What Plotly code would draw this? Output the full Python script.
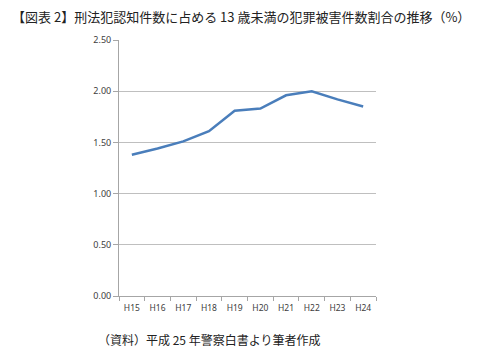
import plotly.graph_objects as go

categories = ["H15", "H16", "H17", "H18", "H19", "H20", "H21", "H22", "H23", "H24"]
values = [1.38, 1.44, 1.51, 1.61, 1.81, 1.83, 1.96, 2.00, 1.92, 1.85]
y_ticks = [0, 0.5, 1.0, 1.5, 2.0, 2.5]
y_tick_labels = ["0.00", "0.50", "1.00", "1.50", "2.00", "2.50"]
title_text = "【図表 2】刑法犯認知件数に占める 13 歳未満の犯罪被害件数割合の推移（%）"
source_text = "（資料）平成 25 年警察白書より筆者作成"

jp_font = "Noto Sans CJK JP"

fig = go.Figure()
fig.add_trace(go.Scatter(
    x=categories, y=values, mode="lines",
    line=dict(color="#4a7ebb", width=2.5),
    showlegend=False,
))

fig.update_layout(
    width=484, height=362,
    margin=dict(l=111, r=116, t=32, b=74),
    paper_bgcolor="white", plot_bgcolor="white",
    font=dict(family="Noto Sans", size=9, color="#404040"),
    annotations=[
        dict(text=title_text, xref="paper", yref="paper", x=-109/257, y=1 + 24/256,
             xanchor="left", yanchor="middle", showarrow=False,
             font=dict(family=jp_font, size=13, color="#222222")),
        dict(text=source_text, xref="paper", yref="paper", x=-23/257, y=-43/256,
             xanchor="left", yanchor="middle", showarrow=False,
             font=dict(family=jp_font, size=12, color="#222222")),
    ],
)
fig.update_xaxes(
    type="category", tickson="boundaries", ticks="outside", ticklen=4,
    tickcolor="#a6a6a6", showline=True, linecolor="#a6a6a6", linewidth=1,
    showgrid=False, tickangle=0, automargin=False, ticklabelstandoff=4,
    tickfont=dict(family="Noto Sans", size=8.5, color="#404040"),
    range=[-0.5, 9.5],
)
fig.update_yaxes(
    range=[0, 2.5], tickvals=y_ticks, ticktext=y_tick_labels,
    ticks="outside", ticklen=5, tickcolor="#a6a6a6", automargin=False,
    showline=True, linecolor="#a6a6a6", linewidth=1,
    showgrid=True, gridcolor="#bfbfbf", gridwidth=1, zeroline=False,
    tickfont=dict(family="Noto Sans", size=9, color="#404040"),
)

fig.write_html("out.html")
